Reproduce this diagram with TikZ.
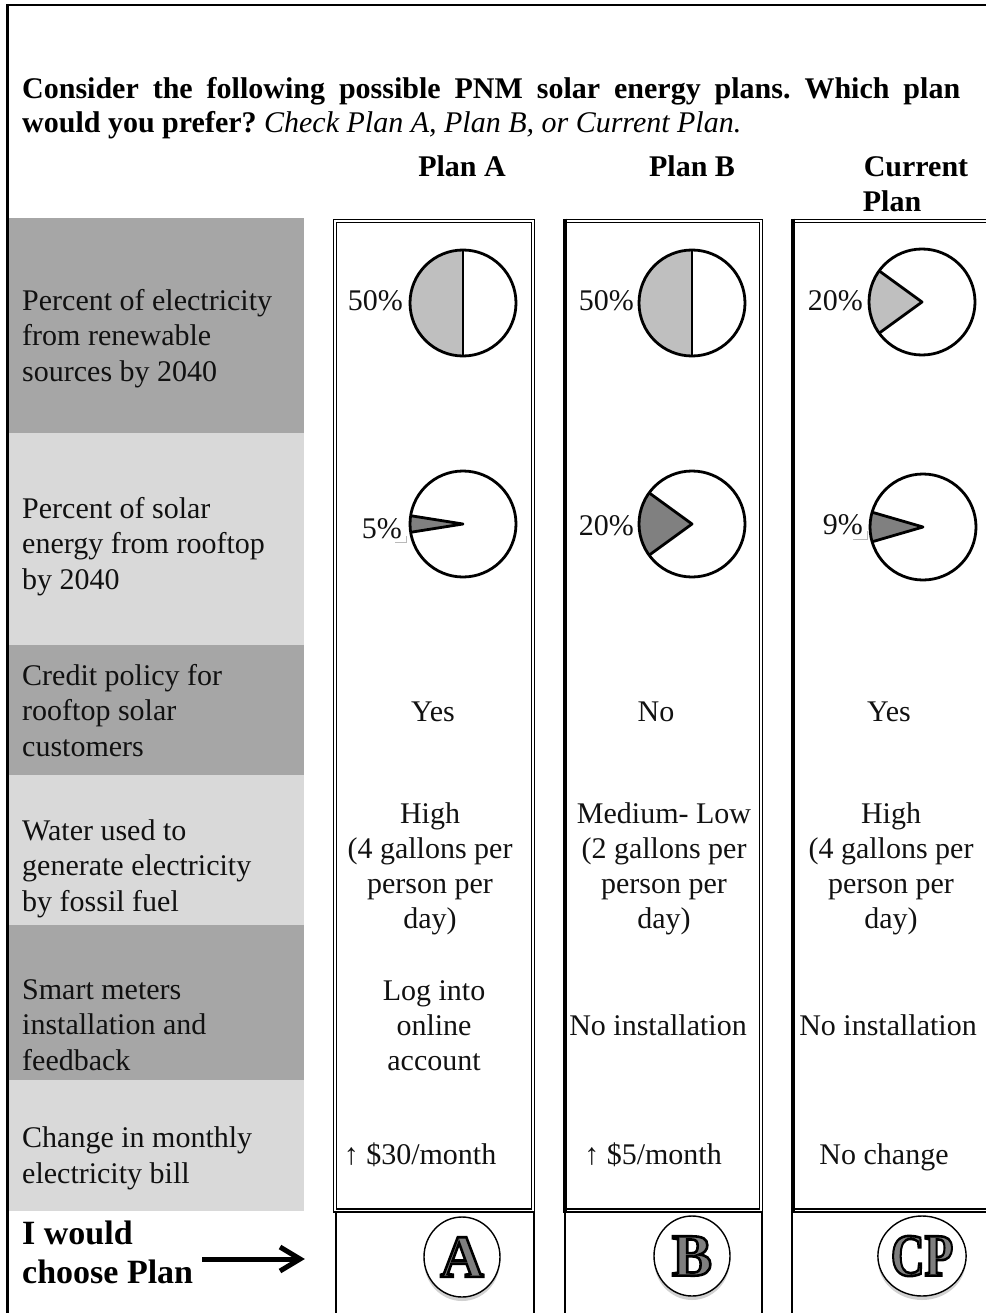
\documentclass[tikz,border=0pt]{standalone}
\usepackage{fontspec}
\setmainfont{Liberation Serif}
\usetikzlibrary{shapes.geometric,shadows}
\definecolor{darkrow}{HTML}{A6A6A6}
\definecolor{lightrow}{HTML}{D9D9D9}
\definecolor{pielight}{HTML}{BFBFBF}
\definecolor{piedark}{HTML}{808080}
\definecolor{engrgray}{HTML}{7F7F7F}
\definecolor{inkc}{HTML}{111111}
\newcommand\engr[1]{{\color{engrgray}\special{pdf:literal 0 G 2 Tr 2.6 w}#1\special{pdf:literal 0 Tr}}}
\newcommand\piechart[5]{%
  \fill[white] (#1,#2) circle[radius=53];
  \fill[#5] (#1,#2) -- ++(#3:53) arc[start angle=#3,end angle=#4,radius=53] -- cycle;
  \draw[pieline] (#1,#2) circle[radius=53];
  \draw[pieline] (#1,#2) ++(#3:53) -- (#1,#2) -- ++(#4:53);
}
\begin{document}
\frenchspacing
\begin{tikzpicture}[x=1pt,y=-1pt,
  lbl/.style={anchor=base west, align=left, inner sep=0pt, text=inkc, font=\fontsize{30}{35.5}\selectfont},
  cell/.style={anchor=base, align=center, inner sep=0pt, text=inkc, font=\fontsize{30}{35}\selectfont},
  hdr/.style={anchor=base, inner sep=0pt, font=\bfseries\fontsize{30}{34}\selectfont},
  pct/.style={anchor=base east, inner sep=0pt, text=inkc, font=\fontsize{30}{35}\selectfont},
  pieline/.style={line width=2.8pt, line join=round},
  outerline/.style={line width=1.8pt},
  innerline/.style={line width=1.3pt},
  thickline/.style={line width=3.8pt},
  cellline/.style={line width=1.3pt},
  arrowline/.style={line width=5pt, line join=miter},
  choice/.style={ellipse, draw, line width=1.4pt, minimum width=76pt, minimum height=80pt, inner sep=0pt, fill=white,
    drop shadow={shadow xshift=0pt, shadow yshift=-4pt, opacity=0.3, fill=black!60},
    font=\bfseries\fontsize{60}{60}\selectfont}
]
\useasboundingbox (0,0) rectangle (985,1313);
% row backgrounds
\fill[darkrow]  (9,218)  rectangle (304,433);
\fill[lightrow] (9,433)  rectangle (304,645);
\fill[darkrow]  (9,645)  rectangle (304,775);
\fill[lightrow] (9,775)  rectangle (304,925);
\fill[darkrow]  (9,925)  rectangle (304,1080);
\fill[lightrow] (9,1080) rectangle (304,1211);
% outer frame
\draw[line width=2.6pt] (7.5,1313) -- (7.5,5) -- (990,5);
% title
\node[anchor=base west, inner sep=0pt, font=\bfseries\fontsize{30}{34}\selectfont] (title1) at (22,99)
  {\makebox[938pt][s]{Consider the following possible PNM solar energy plans. Which plan}};
\node[anchor=base west, inner sep=0pt, font=\fontsize{30}{34}\selectfont] (title2) at (22,133)
  {\textbf{would you prefer?} \textit{Check Plan A, Plan B, or Current Plan.}};
% headers
\node[hdr] (hA) at (462,177) {Plan A};
\node[hdr] (hB) at (692,177) {Plan B};
\node[hdr] (hC1) at (916,177) {Current};
\node[hdr] (hC2) at (892,212) {Plan};
% plan A box
\draw[outerline] (333.5,219.5) rectangle (534.5,1212);
\draw[innerline] (336.5,222.5) rectangle (531.5,1209);
% plan B box
\draw[outerline] (565,219.5) rectangle (762.5,1212);
\draw[innerline] (565,222.5) rectangle (759.5,1209);
\draw[thickline] (565,218.6) -- (565,1212.9);
% current plan box
\draw[outerline] (793,219.5) -- (1000,219.5);
\draw[innerline] (793,222.5) -- (1000,222.5);
\draw[outerline] (793,1212) -- (1000,1212);
\draw[innerline] (793,1209) -- (1000,1209);
\draw[thickline] (793,218.6) -- (793,1212.9);
% bottom choice cells
\draw[cellline] (336,1212) -- (336,1320);
\draw[cellline] (534,1212) -- (534,1320);
\draw[cellline] (565,1212) -- (565,1320);
\draw[cellline] (762,1212) -- (762,1320);
\draw[cellline] (792,1212) -- (792,1320);
% row labels (anchor at baseline of last line)
\node[lbl] (r1) at (22,381) {Percent of electricity\\from renewable\\sources by 2040};
\node[lbl] (r2) at (22,589) {Percent of solar\\energy from rooftop\\by 2040};
\node[lbl] (r3) at (22,756) {Credit policy for\\rooftop solar\\customers};
\node[lbl] (r4) at (22,911) {Water used to\\generate electricity\\by fossil fuel};
\node[lbl] (r5) at (22,1070) {Smart meters\\installation and\\feedback};
\node[lbl] (r6) at (22,1183) {Change in monthly\\electricity bill};
\node[anchor=base west, align=left, inner sep=0pt, font=\bfseries\fontsize{34}{39}\selectfont] (r7) at (22,1283) {I would\\choose Plan};
% pies row 1
\piechart{463}{303}{90}{270}{pielight}
\draw[pieline] (463,250) -- (463,356);
\piechart{692}{303}{90}{270}{pielight}
\draw[pieline] (692,250) -- (692,356);
\piechart{922}{302}{144}{216}{pielight}
\node[pct] (pA1) at (403,310) {50\%};
\node[pct] (pB1) at (634,310) {50\%};
\node[pct] (pC1) at (863,310) {20\%};
% pies row 2
\piechart{463}{524}{171}{189}{piedark}
\piechart{692}{524}{144}{216}{piedark}
\piechart{923}{527}{163.8}{196.2}{piedark}
\node[pct] (pA2) at (402,538) {5\%};
\node[pct] (pB2) at (634,535) {20\%};
\node[pct] (pC2) at (863,534) {9\%};
\draw[gray!55, line width=0.8pt] (395,542.7) -- (406,542.7) -- (406,536);
\draw[gray!55, line width=0.8pt] (853,539) -- (867,539) -- (867,531);
% row 3
\node[cell] (cA3) at (433,721) {Yes};
\node[cell] (cB3) at (656,721) {No};
\node[cell] (cC3) at (889,721) {Yes};
% row 4 (anchor at baseline of last line)
\node[cell] (cA4) at (430,928) {High\\(4 gallons per\\person per\\day)};
\node[cell] (cB4) at (664,928) {Medium- Low\\(2 gallons per\\person per\\day)};
\node[cell] (cC4) at (891,928) {High\\(4 gallons per\\person per\\day)};
% row 5
\node[cell] (cA5) at (434,1070) {Log into\\online\\account};
\node[cell] (cB5) at (658,1035) {No installation};
\node[cell] (cC5) at (888,1035) {No installation};
% row 6
\node[cell] (cA6) at (420,1164) {↑ \$30/month};
\node[cell] (cB6) at (653,1164) {↑ \$5/month};
\node[cell] (cC6) at (884,1164) {No change};
% choice circles
\node[choice] (chA) at (462,1257) {\raisebox{-4pt}{\engr{A}}};
\node[choice] (chB) at (692,1256) {\raisebox{-4pt}{\engr{B}}};
\node[choice] (chC) at (922,1256) {\raisebox{-4pt}{\scalebox{0.78}[1]{\engr{CP}}}};
% arrow
\coordinate (arrS) at (202,1259);
\coordinate (arrE) at (300,1259);
\coordinate (arrU) at (280,1247);
\coordinate (arrD) at (280,1271);
\draw[arrowline] (arrS) -- (arrE);
\draw[arrowline] (arrU) -- (arrE) -- (arrD);
\end{tikzpicture}
\end{document}
